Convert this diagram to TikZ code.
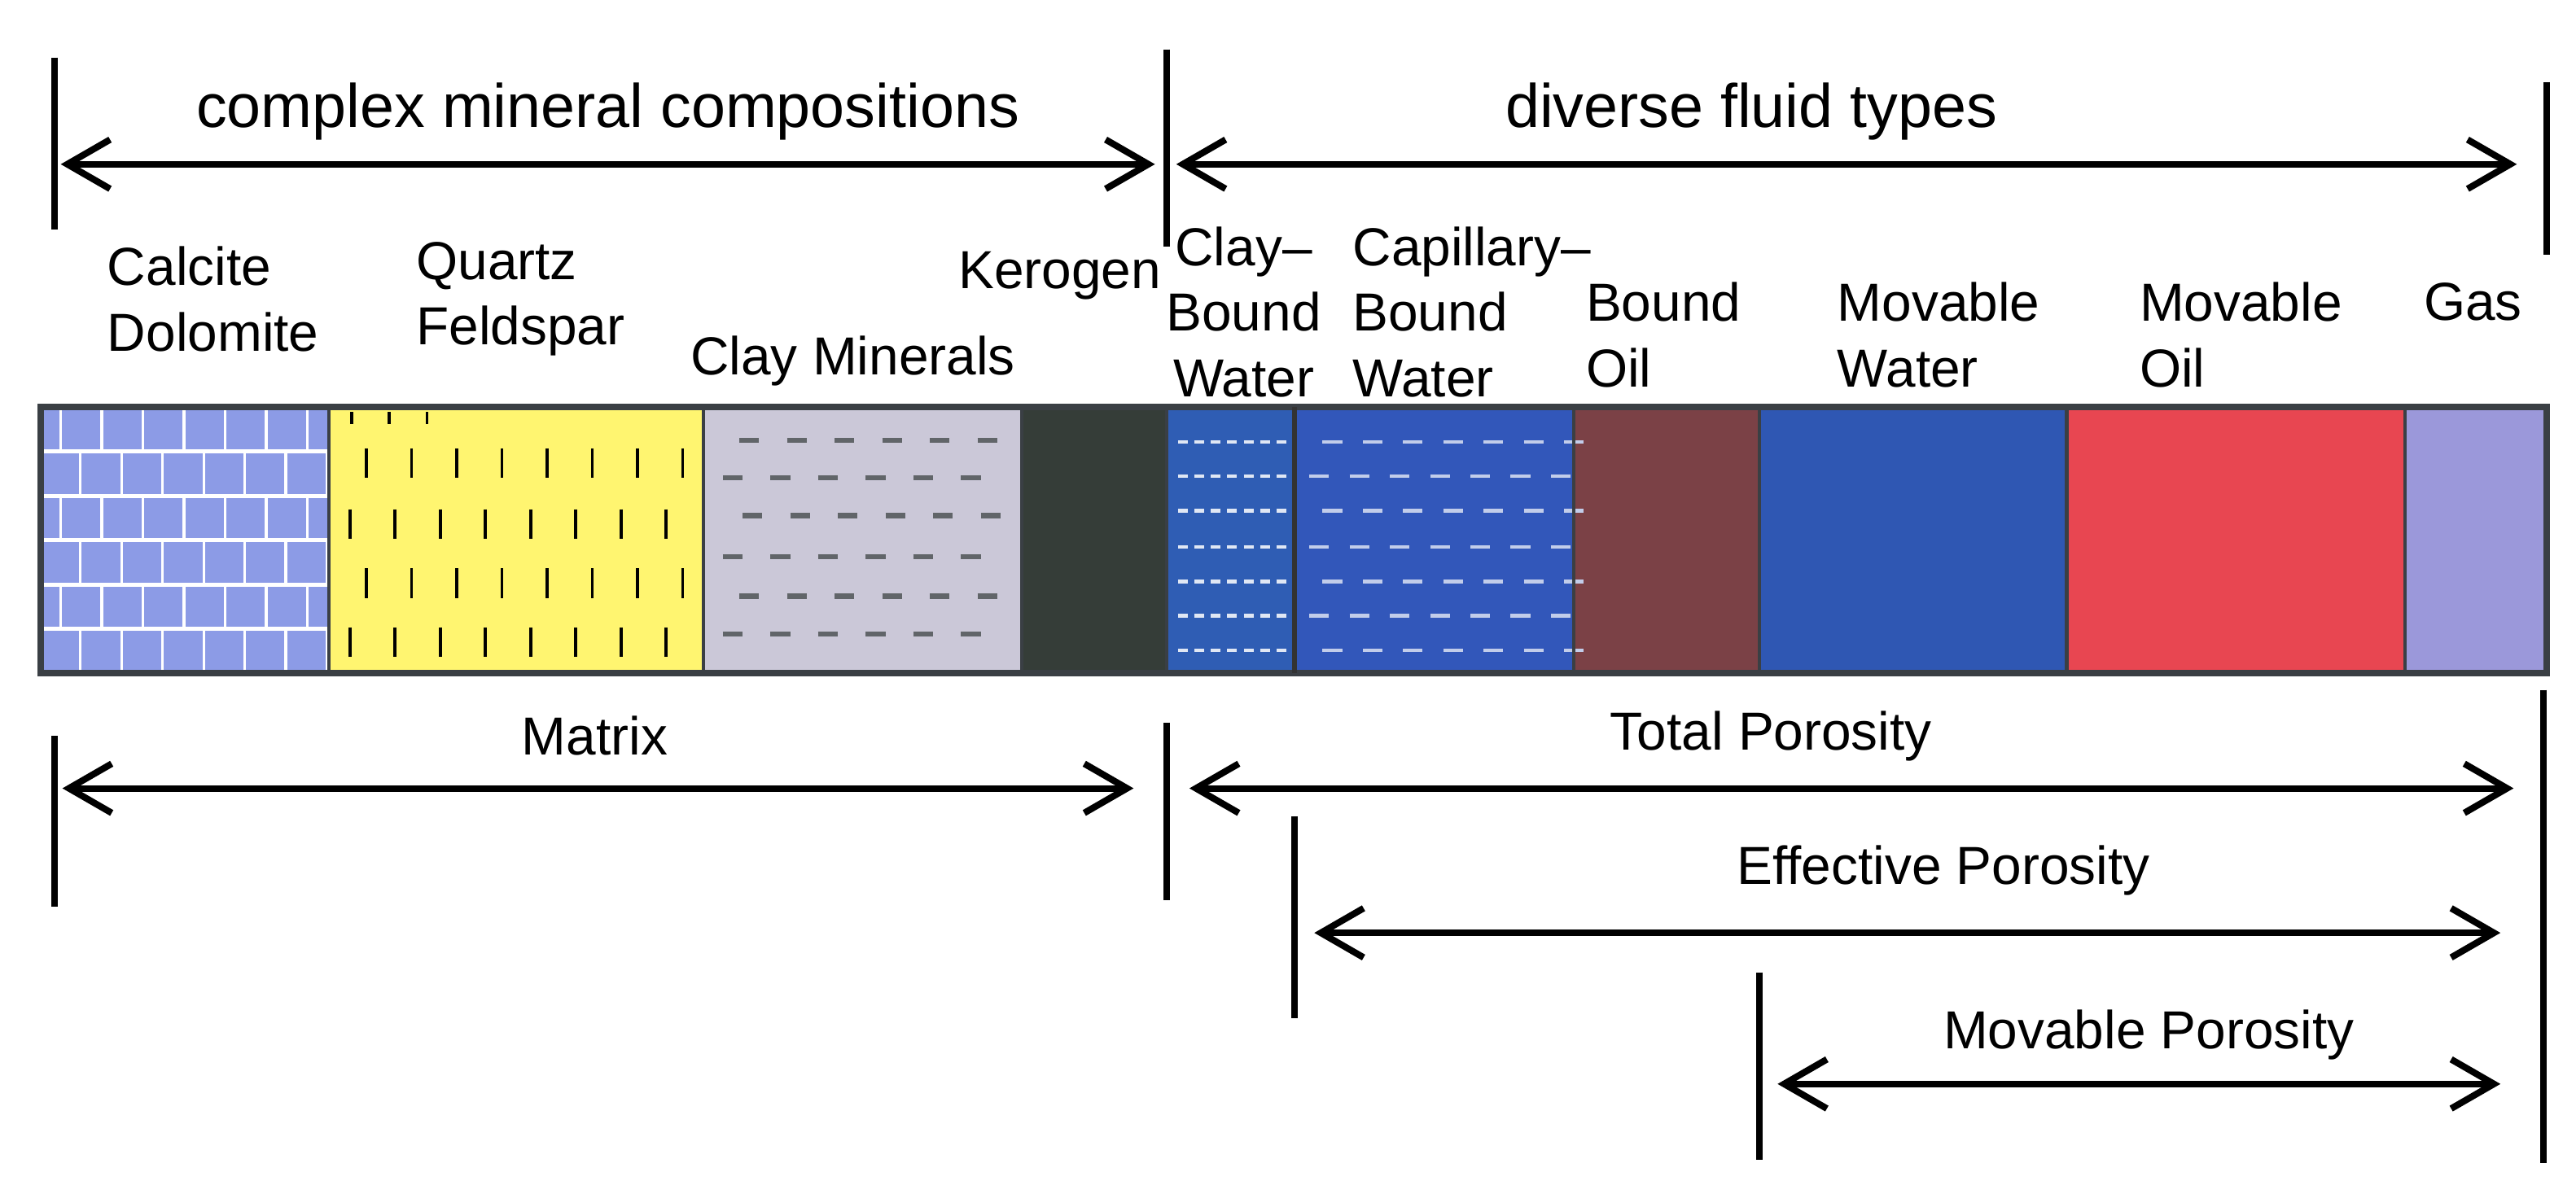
\documentclass[tikz,border=0pt]{standalone}
\usepackage{fontspec}
\setmainfont{Liberation Sans}
\usetikzlibrary{arrows.meta}
\definecolor{calc}{HTML}{8C9BE6}
\definecolor{quar}{HTML}{FFF570}
\definecolor{clayc}{HTML}{CBC8D8}
\definecolor{kero}{HTML}{353D38}
\definecolor{cbw}{HTML}{2F5DB4}
\definecolor{capw}{HTML}{3257BA}
\definecolor{boil}{HTML}{7B4146}
\definecolor{mwat}{HTML}{2F57B3}
\definecolor{moil}{HTML}{E84651}
\definecolor{gasc}{HTML}{9B98DA}
\definecolor{edgec}{HTML}{3A3F44}
\tikzset{
  seg/.style={draw=edgec,line width=1pt},
  tick/.style={line width=2pt,black},
  dim/.style={line width=2pt,black,{Straight Barb[length=13pt,width=15pt,line width=2pt]}-{Straight Barb[length=13pt,width=15pt,line width=2pt]}},
  head/.style={font=\fontsize{18.7pt}{22pt}\selectfont,inner sep=0pt},
  lab/.style={font=\fontsize{16.3pt}{20pt}\selectfont,inner sep=0pt,align=left,anchor=west},
}
\begin{document}
\begin{tikzpicture}[x=0.5pt,y=-0.5pt]
\useasboundingbox (0,0) rectangle (1568,727);
% bar segments
\fill[calc] (25,248) rectangle (200,410);
\fill[quar] (200,248) rectangle (428,410);
\fill[clayc] (428,248) rectangle (622,410);
\fill[kero] (622,248) rectangle (710,410);
\fill[cbw] (710,248) rectangle (788,410);
\fill[capw] (788,248) rectangle (958,410);
\fill[boil] (958,248) rectangle (1071,410);
\fill[mwat] (1071,248) rectangle (1258,410);
\fill[moil] (1258,248) rectangle (1464,410);
\fill[gasc] (1464,248) rectangle (1550,410);
% calcite bricks
\begin{scope}
\clip (25,248) rectangle (200,410);
\foreach \k in {1,...,5} \draw[white,line width=1.2pt] (25,{248+27*\k}) -- (200,{248+27*\k});
\foreach \k in {0,...,5} {
  \pgfmathsetmacro{\off}{mod(\k,2)==0 ? 37 : 49}
  \foreach \j in {0,...,6} \draw[white,line width=0.8pt] ({\off+25*\j},{248+27*\k}) -- ({\off+25*\j},{248+27*(\k+1)});
}
\end{scope}
% quartz dashes
\foreach \x in {214,237,260} \draw[black,line width=0.9pt] (\x,251) -- (\x,258);
\foreach \y/\o in {282/0,319/-10,355/0,391/-10} {
  \foreach \j in {0,...,7} \draw[black,line width=0.9pt] ({223+\o+27.5*\j},{\y-9}) -- ({223+\o+27.5*\j},{\y+9});
}
% clay dashes
\foreach \y/\o in {268/10,291/0,314/12,339/0,363/10,386/0} {
  \foreach \j in {0,...,5} \draw[edgec!80,line width=1.6pt] ({440+\o+29*\j},\y) -- ({452+\o+29*\j},\y);
}
% clay-bound water dashes
\foreach \y in {269,290,311,333,354,375,396} {
  \foreach \j in {0,...,6} \draw[white!85!cbw,line width=1.1pt] ({717+10*\j},\y) -- ({723+10*\j},\y);
}
% capillary water dashes
\foreach \y/\o in {269/8,290/0,311/8,333/0,354/8,375/0,396/8} {
  \foreach \j in {0,...,6} \draw[white!70!capw,line width=1.1pt] ({797+\o+24.5*\j},\y) -- ({809+\o+24.5*\j},\y);
}
% outlines
\foreach \a/\b in {25/200,200/428,428/622,622/710,710/788,788/958,958/1071,1071/1258,1258/1464,1464/1550}
  \draw[seg] (\a,248) rectangle (\b,410);
\draw[edgec,line width=2pt] (25,248) rectangle (1550,410);
\draw[black!80,line width=1.4pt] (788,248) -- (788,410);

% top ticks & arrows
\coordinate (t1a) at (33,35); \coordinate (t1b) at (33,140);
\coordinate (t2a) at (710,30); \coordinate (t2b) at (710,150);
\coordinate (t3a) at (1550,50); \coordinate (t3b) at (1550,155);
\draw[tick] (t1a) -- (t1b); \draw[tick] (t2a) -- (t2b); \draw[tick] (t3a) -- (t3b);
\coordinate (a1l) at (37,100); \coordinate (a1r) at (703,100);
\coordinate (a2l) at (716,100); \coordinate (a2r) at (1532,100);
\draw[dim] (a1l) -- (a1r);
\draw[dim] (a2l) -- (a2r);
\node[head] (h1) at (370,68) {complex mineral compositions};
\node[head] (h2) at (1066,68) {diverse fluid types};

% labels above bar
\node[lab] (l1) at (65,182) {Calcite\\Dolomite};
\node[lab] (l2) at (253,182) {Quartz\\Feldspar};
\node[lab] (l3) at (420,220) {Clay Minerals};
\node[lab] (l4) at (583,168) {Kerogen};
\node[lab,align=center,anchor=center] (l5) at (757,190) {Clay–\\Bound\\Water};
\node[lab] (l6) at (823,190) {Capillary–\\Bound\\Water};
\node[lab] (l7) at (965,204) {Bound\\Oil};
\node[lab] (l8) at (1118,204) {Movable\\Water};
\node[lab] (l9) at (1302,204) {Movable\\Oil};
\node[lab] (l10) at (1475,184) {Gas};

% bottom ticks
\coordinate (b1a) at (33,448); \coordinate (b1b) at (33,552);
\coordinate (b2a) at (710,440); \coordinate (b2b) at (710,548);
\coordinate (b3a) at (1548,420); \coordinate (b3b) at (1548,708);
\coordinate (b4a) at (788,497); \coordinate (b4b) at (788,620);
\coordinate (b5a) at (1071,592); \coordinate (b5b) at (1071,706);
\foreach \p in {b1,b2,b3,b4,b5} \draw[tick] (\p a) -- (\p b);
\coordinate (m1) at (38,480); \coordinate (m2) at (690,480);
\coordinate (tp1) at (724,480); \coordinate (tp2) at (1530,480);
\coordinate (ep1) at (800,568); \coordinate (ep2) at (1522,568);
\coordinate (mp1) at (1082,660); \coordinate (mp2) at (1522,660);
\draw[dim] (m1) -- (m2);
\draw[dim] (tp1) -- (tp2);
\draw[dim] (ep1) -- (ep2);
\draw[dim] (mp1) -- (mp2);
\node[lab,anchor=center] (n1) at (362,448) {Matrix};
\node[lab,anchor=center] (n2) at (1078,448) {Total Porosity};
\node[lab,anchor=center] (n3) at (1183,530) {Effective Porosity};
\node[lab,anchor=center] (n4) at (1308,630) {Movable Porosity};
\end{tikzpicture}
\end{document}
